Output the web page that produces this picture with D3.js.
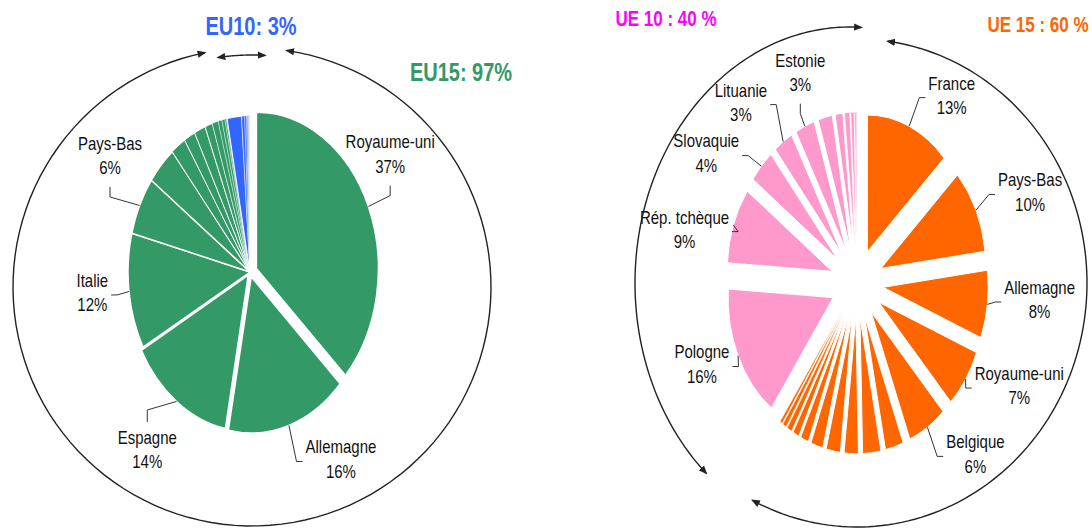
<!DOCTYPE html>
<html lang="fr">
<head>
<meta charset="UTF-8">
<title>EU15 / EU10</title>
<script src="https://cdn.jsdelivr.net/npm/d3@7"></script>
<style>
  body { margin: 0; background: #fff; font-family: "Liberation Sans", Arial, sans-serif; }
  svg { display: block; }
  .lbl { font-size: 15px; fill: #111; }
  .lead { fill: none; stroke: #333; stroke-width: 1; }
  .ring { fill: none; stroke: #222; stroke-width: 1.4; }
</style>
</head>
<body>
<svg id="chart" width="1092" height="530"></svg>
<script>
// left pie (%), EU15 then EU10, clockwise from the top
const leftEU15Names = ["Royaume-uni", "Allemagne", "Espagne", "Italie", "Pays-Bas", "", "", "", "", "", "", "", "", "", ""];
const leftEU15Values = [37, 16, 14, 12, 6, 4, 2, 1.5, 1.5, 1, 0.8, 0.5, 0.4, 0.2, 0.1];
const leftEU10Values = [1.9, 0.4, 0.25, 0.15, 0.1, 0.08, 0.05, 0.04, 0.02, 0.01];
const leftTitles = ["EU10: 3%", "EU15: 97%"];

// right pie (%), UE15 then UE10
const rightUE15Names = ["France", "Pays-Bas", "Allemagne", "Royaume-uni", "Belgique", "", "", "", "", "", "", "", "", "", ""];
const rightUE15Values = [13, 10, 8, 7, 6, 2.8, 2.8, 2.2, 2.2, 1.9, 1.3, 1.0, 0.8, 0.6, 0.4];
const rightUE10Names = ["Pologne", "Rép. tchèque", "Slovaquie", "Lituanie", "Estonie", "", "", "", "", ""];
const rightUE10Values = [16, 9, 4, 3, 3, 2.2, 1.2, 0.8, 0.5, 0.3];
const rightTitles = ["UE 10 : 40 %", "UE 15 : 60 %"];

const svg = d3.select("#chart");
const textStretch = 1.25; // the original picture is squashed horizontally

// arrowheads
svg.append("defs").append("marker")
    .attr("id", "arr")
    .attr("viewBox", "0 0 10 10")
    .attr("refX", 8).attr("refY", 5)
    .attr("markerWidth", 9).attr("markerHeight", 9)
    .attr("markerUnits", "userSpaceOnUse")
    .attr("orient", "auto-start-reverse")
    .append("path")
    .attr("d", "M0,1 L10,5 L0,9 z")
    .attr("fill", "#222");

const leftCfg = {
    cx: 250, cy: 272, r: 122, k: 1.28, labelR: 168,
    strokeW: v => v >= 4 ? 1.5 : (v >= 1 ? 0.9 : 0.4),
    colors: { a: "#339966", b: "#3366ff" },
    explode: i => [7, 4, 3][i] || 0,
    lblOffset: [[-14, -32], [39, -17], [-4, 4], [9, -6], [12, -24.5]],
    lblSide: ["bottom", "left", "top", "right", "bottom"]
};

const rightCfg = {
    cx: 857, cy: 283, r: 105, k: 1.3, labelR: 178,
    strokeW: v => v >= 1 ? 1 : 0.6,
    colors: { a: "#ff6600", b: "#ff99cc" },
    explode: () => 26.4,
    lblOffset: [[24, 25], [12, 8], [6, -12], [15, -27], [23, -24],
                [6, -17], [-5, 25], [-21, 29], [-16, 11], [14, 2]],
    lblSide: ["left", "left", "left", "left", "left", "right", "right", "right", "right", "bottom"]
};

function drawPie(cfg, names, values, groups) {
    const data = values.map((v, i) => ({ name: names[i], value: v, group: groups[i] }));
    const arcs = d3.pie().sort(null).value(d => d.value)(data);
    const arc = d3.arc().innerRadius(0).outerRadius(cfg.r);

    const g = svg.append("g")
        .attr("transform", `translate(${cfg.cx},${cfg.cy}) scale(1,${cfg.k})`);

    g.selectAll("path").data(arcs).join("path")
        .attr("d", arc)
        .attr("transform", d => {
            const m = (d.startAngle + d.endAngle) / 2, e = cfg.explode(d.index);
            return `translate(${e * Math.sin(m)},${-e * Math.cos(m)})`;
        })
        .attr("fill", d => cfg.colors[d.data.group])
        .attr("stroke", "#fff")
        .attr("stroke-width", d => cfg.strokeW(d.data.value))
        .attr("vector-effect", "non-scaling-stroke");

    // labels + leader lines
    const line = d3.line();
    arcs.filter(d => d.data.name).forEach((d, j) => {
        const m = (d.startAngle + d.endAngle) / 2;
        const e = cfg.explode(d.index);
        const ax = cfg.cx + (cfg.r + e) * Math.sin(m);
        const ay = cfg.cy - cfg.k * (cfg.r + e) * Math.cos(m);
        const lx = cfg.cx + cfg.labelR * Math.sin(m) + cfg.lblOffset[j][0];
        const ly = cfg.cy - cfg.k * cfg.labelR * Math.cos(m) + cfg.lblOffset[j][1];

        const tg = svg.append("g")
            .attr("transform", `translate(${lx},${ly}) scale(1,${textStretch})`);
        const t1 = tg.append("text").attr("class", "lbl")
            .attr("text-anchor", "middle").attr("dominant-baseline", "central")
            .attr("y", -9.75).text(d.data.name);
        tg.append("text").attr("class", "lbl")
            .attr("text-anchor", "middle").attr("dominant-baseline", "central")
            .attr("y", 9.75).text(d3.format("d")(d.data.value) + "%");
        const w = t1.node().getComputedTextLength();

        let at, el;
        switch (cfg.lblSide[j]) {
            case "bottom": at = [lx, ly + 31]; el = [lx, ly + 41]; break;
            case "top": at = [lx, ly - 28]; el = [lx, ly - 40]; break;
            case "left": at = [lx - w / 2 - 3, ly + 2]; el = [at[0] - 6, ly + 2]; break;
            default: at = [lx + w / 2 + 3, ly + 2]; el = [at[0] + 6, ly + 2];
        }
        svg.append("path").attr("class", "lead").attr("d", line([[ax, ay], el, at]));
    });
}

function ellipseArc(cx, cy, rx, ry, t0, t1) {
    const pts = d3.range(0, 121).map(i => {
        const t = (t0 + (t1 - t0) * i / 120) * Math.PI / 180;
        return [cx + rx * Math.sin(t), cy - ry * Math.cos(t)];
    });
    return d3.line()(pts);
}

function ring(cx, cy, rx, ry, t0, t1) {
    svg.append("path").attr("class", "ring")
        .attr("d", ellipseArc(cx, cy, rx, ry, t0, t1))
        .attr("marker-start", "url(#arr)")
        .attr("marker-end", "url(#arr)");
}

function title(txt, x, y, size, color) {
    svg.append("g")
        .attr("transform", `translate(${x},${y}) scale(1,${textStretch})`)
        .append("text")
        .attr("text-anchor", "middle")
        .attr("font-weight", "bold")
        .attr("font-size", size)
        .attr("fill", color)
        .text(txt);
}

// left chart
drawPie(leftCfg,
    leftEU15Names.concat(leftEU10Values.map(() => "")),
    leftEU15Values.concat(leftEU10Values),
    leftEU15Values.map(() => "a").concat(leftEU10Values.map(() => "b")));
ring(252, 287, 239, 239, 8.4, 348.6);
ring(252, 287, 232, 232, -8.4, 3.2);
title(leftTitles[0], 251, 35, 20, "#3366ff");
title(leftTitles[1], 461, 81, 20, "#339966");

// right chart
drawPie(rightCfg,
    rightUE15Names.concat(rightUE10Names),
    rightUE15Values.concat(rightUE10Values),
    rightUE15Values.map(() => "a").concat(rightUE10Values.map(() => "b")));
ring(850, 283, 215, 256, 222, 363);
ring(857, 283, 230, 244, 7.7, 207);
title(rightTitles[0], 666, 26, 17, "#ff00ff");
title(rightTitles[1], 1038, 32, 17, "#ff6600");
</script>
</body>
</html>
